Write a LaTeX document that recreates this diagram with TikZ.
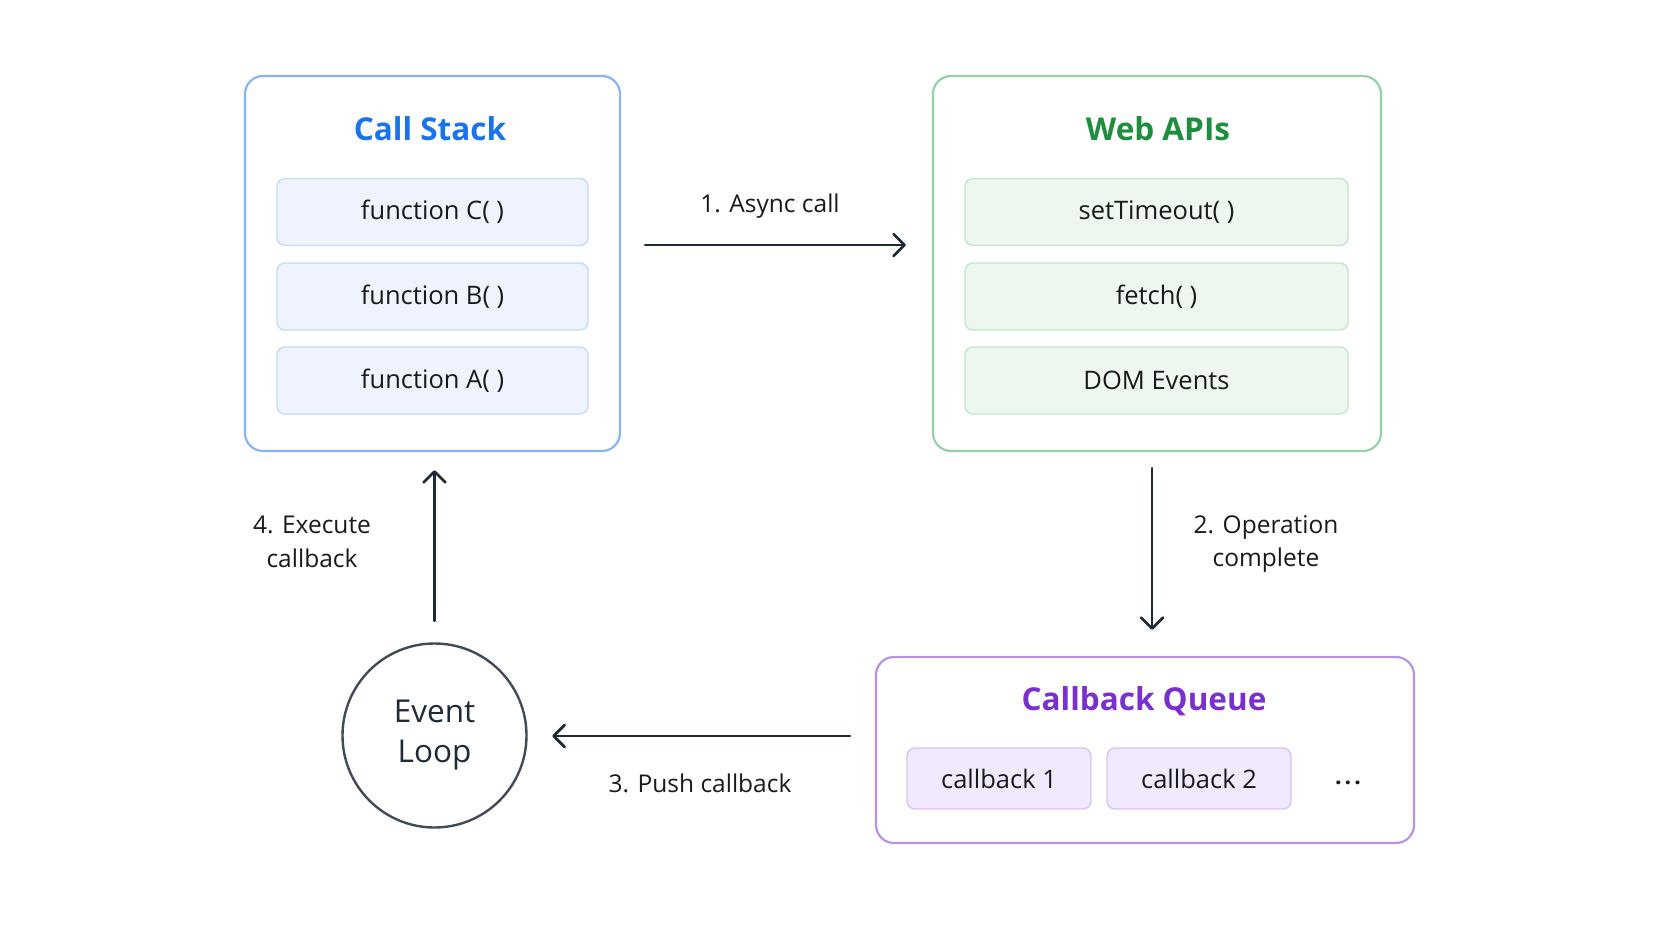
\documentclass[tikz,border=0pt]{standalone}
\usepackage{fontspec}
\setmainfont{Open Sans}
\usetikzlibrary{arrows.meta,calc}
\definecolor{csBlue}{HTML}{1A73E8}
\definecolor{csBorder}{HTML}{8AB4F8}
\definecolor{csFill}{HTML}{EEF3FD}
\definecolor{csInBorder}{HTML}{C6DAFC}
\definecolor{waGreen}{HTML}{1E8E3E}
\definecolor{waBorder}{HTML}{94D3A6}
\definecolor{waFill}{HTML}{EDF6EF}
\definecolor{waInBorder}{HTML}{C4E6CE}
\definecolor{cqPurple}{HTML}{7A2FCF}
\definecolor{cqBorder}{HTML}{B892EA}
\definecolor{cqFill}{HTML}{F1E9FD}
\definecolor{cqInBorder}{HTML}{D8C4F7}
\definecolor{ink}{HTML}{1F2A37}
\definecolor{txt}{HTML}{1A1A1A}
\tikzset{
  outerbox/.style={draw, line width=2.2pt, rounded corners=18pt, fill=white, inner sep=0pt},
  innerbox/.style={draw, line width=1.4pt, rounded corners=8pt, inner sep=0pt, font=\fontsize{25.5}{30}\selectfont, text=txt},
  titletext/.style={font=\bfseries\fontsize{31.5}{38}\selectfont},
  lbl/.style={font=\fontsize{24.5}{33.5}\selectfont, text=txt, align=center},
  arr/.style={draw=ink, line width=2.8pt, line cap=round, -{Straight Barb[length=11pt,width=22pt,line join=round,line cap=round]}}
}
\begin{document}
\begin{tikzpicture}[x=1pt,y=-1pt]
\useasboundingbox[fill=white] (0,0) rectangle (1672,941);
% Call Stack
\node[outerbox, draw=csBorder, minimum width=375pt, minimum height=375pt] (cs) at (432.5,263.5) {};
\node[titletext, text=csBlue] (cst) at (430,129) {Call Stack};
\node[innerbox, draw=csInBorder, fill=csFill, minimum width=311pt, minimum height=67pt] (fc) at (432.5,212) {function C( )};
\node[innerbox, draw=csInBorder, fill=csFill, minimum width=311pt, minimum height=67pt] (fb) at (432.5,296.5) {function B( )};
\node[innerbox, draw=csInBorder, fill=csFill, minimum width=311pt, minimum height=67pt] (fa) at (432.5,380.5) {function A( )};
% Web APIs
\node[outerbox, draw=waBorder, minimum width=448pt, minimum height=375pt] (web) at (1157,263.5) {};
\node[titletext, text=waGreen] (webt) at (1158,129) {Web APIs};
\node[innerbox, draw=waInBorder, fill=waFill, minimum width=383pt, minimum height=67pt] (st) at (1156.5,212) {setTimeout( )};
\node[innerbox, draw=waInBorder, fill=waFill, minimum width=383pt, minimum height=67pt] (fe) at (1156.5,296.5) {fetch( )};
\node[innerbox, draw=waInBorder, fill=waFill, minimum width=383pt, minimum height=67pt] (dom) at (1156.5,380.5) {DOM Events};
% Callback Queue
\node[outerbox, draw=cqBorder, minimum width=538pt, minimum height=186pt] (cq) at (1145,750) {};
\node[titletext, text=cqPurple] (cqt) at (1144,701) {Callback Queue};
\node[innerbox, draw=cqInBorder, fill=cqFill, minimum width=184pt, minimum height=61pt] (cb1) at (999,778.5) {callback 1};
\node[innerbox, draw=cqInBorder, fill=cqFill, minimum width=184pt, minimum height=61pt] (cb2) at (1199,778.5) {callback 2};
\node[font=\bfseries\fontsize{23}{27}\selectfont, text=txt] (dots) at (1348,783) {.\hspace{3pt}.\hspace{3pt}.};
% Event Loop
\node[circle, draw=ink!85, line width=2.4pt, minimum size=184pt, inner sep=0pt, fill=white, font=\fontsize{31.5}{40}\selectfont, text=ink, align=center] (el) at (434.5,735.5) {Event\\Loop};
% Arrows
\coordinate (a1s) at ($(cs.east)+(24,-18.5)$);
\coordinate (a1e) at ($(web.west)+(-26,-18.5)$);
\draw[arr] (a1s) -- (a1e);
\node[lbl] (l1) at (770,206) {1. Async call};
\coordinate (a2s) at ($(web.south)+(-5,16)$);
\coordinate (a2e) at ($(cq.north)+(7,-26)$);
\draw[arr] (a2s) -- (a2s |- a2e);
\node[lbl] (l2) at (1266,544) {2. Operation\\complete};
\coordinate (a3s) at ($(cq.west)+(-25,-14)$);
\coordinate (a3e) at ($(el.east)+(24.5,0)$);
\draw[arr] (a3s) -- (a3e |- a3s);
\node[lbl] (l3) at (700,783) {3. Push callback};
\coordinate (a4s) at ($(el.north)+(0,-21.5)$);
\coordinate (a4e) at ($(cs.south)+(0,18)$);
\draw[arr] (a4s) -- (a4s |- a4e);
\node[lbl] (l4) at (312,542) {4. Execute\\callback};
\end{tikzpicture}
\end{document}
